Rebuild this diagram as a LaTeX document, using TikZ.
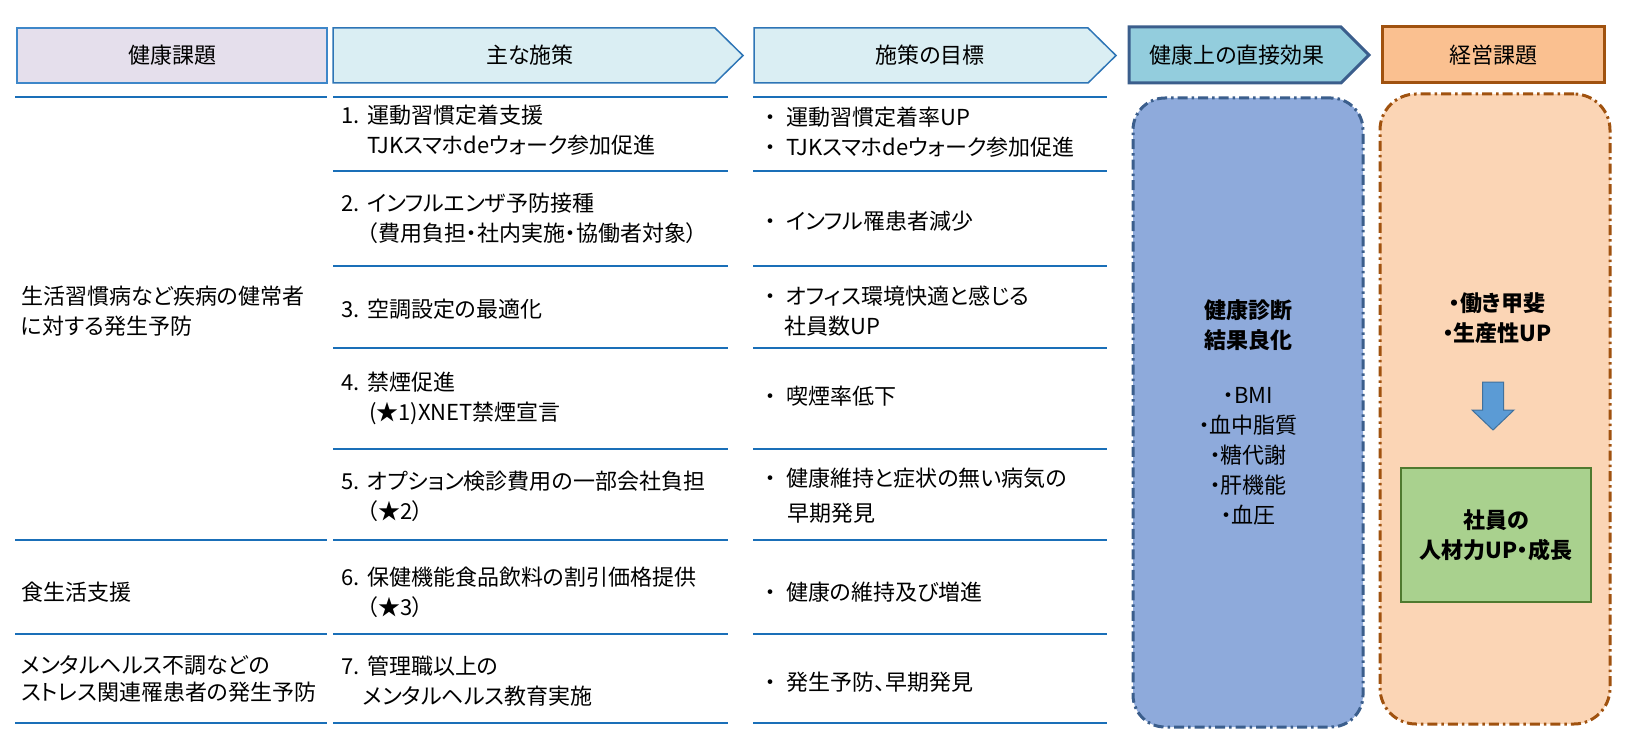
\documentclass[tikz,border=0pt]{standalone}
\usepackage{fontspec}
\setmainfont{Noto Sans CJK JP}[RawFeature={+palt}]
\usepackage{xcolor}
\usepackage{tikz}
\usetikzlibrary{positioning, calc}
\definecolor{issueFill}{HTML}{E5DFEC}
\definecolor{issueStroke}{HTML}{3E87C9}
\definecolor{cyanFill}{HTML}{DAEEF3}
\definecolor{cyanStroke}{HTML}{2E75B6}
\definecolor{effFill}{HTML}{93CDDD}
\definecolor{effStroke}{HTML}{3B5E8C}
\definecolor{mgmtFill}{HTML}{FAC090}
\definecolor{mgmtStroke}{HTML}{A0520F}
\definecolor{blueBox}{HTML}{8EAADB}
\definecolor{orangeBox}{HTML}{FBD5B5}
\definecolor{greenFill}{HTML}{A9D18E}
\definecolor{greenStroke}{HTML}{4F7A2F}
\definecolor{arrFill}{HTML}{5B9BD5}
\definecolor{arrStroke}{HTML}{41719C}
\definecolor{rowLine}{HTML}{1A6FB8}
\newcommand{\txtfont}{\fontsize{22}{30}\selectfont}
\newcommand{\numbox}[1]{\makebox[26pt][l]{#1}}
\newcommand{\dotbox}{\makebox[21pt][l]{・}}
\tikzset{
	% header boxes
	hdr base/.style={rectangle, inner sep=0pt, font=\txtfont},
	hdr txt/.style={inner sep=0pt, font=\txtfont},
	issue hdr/.style={hdr base, fill=issueFill, draw=issueStroke, line width=2pt},
	cyan hdr/.style={fill=cyanFill, draw=cyanStroke, line width=1.5pt},
	eff hdr/.style={fill=effFill, draw=effStroke, line width=3pt},
	mgmt hdr/.style={hdr base, fill=mgmtFill, draw=mgmtStroke, line width=3pt},
	% table texts
	cell txt/.style={anchor=west, align=left, inner sep=0pt, font=\txtfont},
	row thin/.style={draw=rowLine, line width=1.5pt},
	row thick/.style={draw=rowLine, line width=2.5pt},
	% right hand panels
	dashdot/.style={dash pattern=on 10pt off 4pt on 2.5pt off 4pt, line width=3pt},
	effect box/.style={rectangle, rounded corners=32pt, dashdot,
		fill=blueBox, draw=effStroke, align=center, font=\txtfont},
	worth box/.style={rectangle, rounded corners=36pt, dashdot,
		fill=orangeBox, draw=mgmtStroke},
	talent box/.style={rectangle, fill=greenFill, draw=greenStroke,
		line width=1.5pt, align=center, font=\txtfont\bfseries},
	down arr/.style={fill=arrFill, draw=arrStroke, line width=1pt}
}

\begin{document}
\begin{tikzpicture}[x=1pt, y=-1pt]
	\useasboundingbox (0,0) rectangle (1636,741);
	
	%--- Header Row ------------------------------------------------------
	
	\node[issue hdr, minimum width=310pt, minimum height=55pt] (hIssue)
	at (172,55.5) {健康課題};
	
	\draw[cyan hdr] (333,28) -- (715,28) -- (743,55.5) -- (715,83) -- (333,83) -- cycle;
	\node[hdr txt] (hMeasure) at (530,55.5) {主な施策};
	
	\draw[cyan hdr] (754,28) -- (1088,28) -- (1116,55.5) -- (1088,83) -- (754,83) -- cycle;
	\node[hdr txt] (hGoal) at (930,55.5) {施策の目標};
	
	\draw[eff hdr] (1129,27) -- (1341,27) -- (1369,55) -- (1341,83) -- (1129,83) -- cycle;
	\node[hdr txt] (hEffect) at (1237,55) {健康上の直接効果};
	
	\node[mgmt hdr, minimum width=222pt, minimum height=56pt] (hMgmt)
	at (1493,55) {経営課題};
	
	%--- Row Separators --------------------------------------------------
	
	\draw[row thin] (15,97) -- (327,97);
	\draw[row thin] (333,97) -- (728,97);
	\draw[row thin] (753,97) -- (1107,97);
	\draw[row thin] (333,266) -- (728,266);
	\draw[row thin] (753,266) -- (1107,266);
	\foreach \y in {171,348,449,540,634,723}{
		\draw[row thick] (333,\y) -- (728,\y);
		\draw[row thick] (753,\y) -- (1107,\y);
	}
	\foreach \y in {540,634,723}
		\draw[row thick] (15,\y) -- (327,\y);
	
	%--- Column 1: health issues -----------------------------------------
	
	\node[cell txt] (issLife) at (21,311)
	{生活習慣病など疾病の健常者\\に対する発生予防};
	\node[cell txt] (issFood) at (21,592) {食生活支援};
	\node[cell txt, font=\fontsize{22}{27}\selectfont] (issMental) at (21,679)
	{メンタルヘルス不調などの\\ストレス関連罹患者の発生予防};
	
	%--- Column 2: main measures -----------------------------------------
	
	\node[cell txt] (ms1) at (341,130)
	{\numbox{1.}運動習慣定着支援\\\hspace*{26pt}TJKスマホdeウォーク参加促進};
	\node[cell txt] (ms2) at (341,218)
	{\numbox{2.}インフルエンザ予防接種\\\hspace*{26pt}（費用負担・社内実施・協働者対象）};
	\node[cell txt] (ms3) at (341,309) {\numbox{3.}空調設定の最適化};
	\node[cell txt] (ms4) at (341,398)
	{\numbox{4.}禁煙促進\\\hspace*{28pt}(★1)XNET禁煙宣言};
	\node[cell txt] (ms5) at (341,496)
	{\numbox{5.}オプション検診費用の一部会社負担\\\hspace*{26pt}（★2）};
	\node[cell txt] (ms6) at (341,592)
	{\numbox{6.}保健機能食品飲料の割引価格提供\\\hspace*{26pt}（★3）};
	\node[cell txt] (ms7) at (341,681)
	{\numbox{7.}管理職以上の\\\hspace*{22pt}メンタルヘルス教育実施};
	
	%--- Column 3: measure goals -----------------------------------------
	
	\node[cell txt] (gl1) at (765,132)
	{\dotbox 運動習慣定着率UP\\\dotbox TJKスマホdeウォーク参加促進};
	\node[cell txt] (gl2) at (765,221) {\dotbox インフル罹患者減少};
	\node[cell txt] (gl3) at (765,311)
	{\dotbox オフィス環境快適と感じる\\\hspace*{19pt}社員数UP};
	\node[cell txt] (gl4) at (765,396) {\dotbox 喫煙率低下};
	\node[cell txt, font=\fontsize{22}{35}\selectfont] (gl5) at (765,496)
	{\dotbox 健康維持と症状の無い病気の\\\hspace*{22pt}早期発見};
	\node[cell txt] (gl6) at (765,592) {\dotbox 健康の維持及び増進};
	\node[cell txt] (gl7) at (765,682) {\dotbox 発生予防、早期発見};
	
	%--- Direct health effects -------------------------------------------
	
	\node[effect box, minimum width=230pt, minimum height=629pt] (effect)
	at (1248,412.5)
	{\textbf{健康診断}\\\textbf{結果良化}\\[25pt]・BMI\\・血中脂質\\・糖代謝\\・肝機能\\・血圧};
	
	%--- Management issues -----------------------------------------------
	
	\node[worth box, minimum width=230pt, minimum height=630pt] (worthBox)
	at (1495,409) {};
	\node[align=center, inner sep=0pt, font=\txtfont\bfseries] (worth)
	at (1497,318) {・働き甲斐\\・生産性UP};
	\node[talent box, minimum width=190pt, minimum height=134pt] (talent)
	at (1496,535) {社員の\\人材力UP・成長};
	
	% block arrow from worth to talent
	\coordinate (arrTop) at (1493,382);
	\draw[down arr] ($(arrTop)+(-10.5,0)$) -- ++(21,0) -- ++(0,28) -- ++(10.5,0)
	-- ($(arrTop)+(0,48)$) -- ($(arrTop)+(-21,28)$) -- ++(10.5,0) -- cycle;
	
\end{tikzpicture}
\end{document}
